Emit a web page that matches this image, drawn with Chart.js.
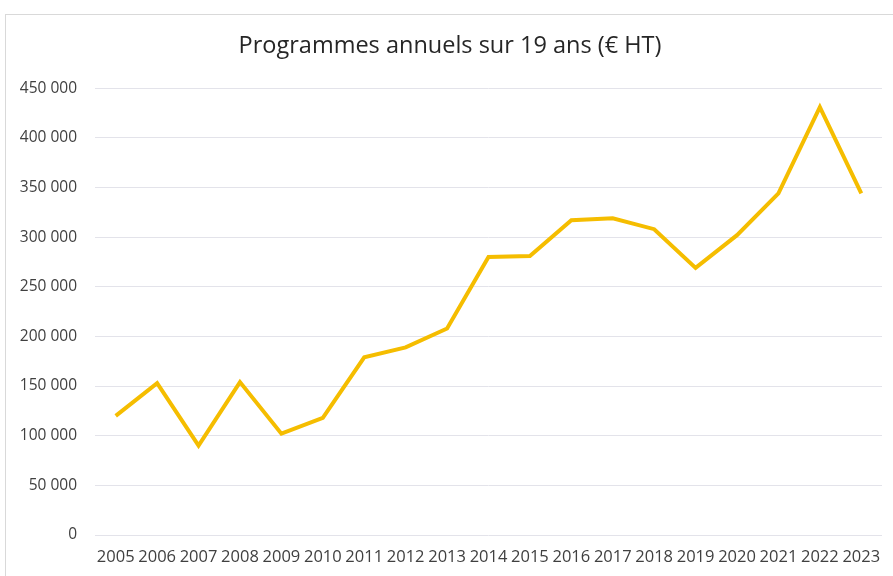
<!DOCTYPE html>
<html>
<head>
<meta charset="utf-8">
<script src="https://cdn.jsdelivr.net/npm/chart.js@4"></script>
<style>
  html, body { margin: 0; padding: 0; background: #fff; }
  #frame { position: absolute; left: 5px; top: 14px; width: 900px; height: 570px; border: 1px solid #d9d9d9; box-sizing: border-box; }
  #wrap { position: absolute; left: 0; top: 0; width: 893px; height: 576px; }
</style>
</head>
<body>
<div id="frame"></div>
<div id="wrap"><canvas id="chart"></canvas></div>
<script>
var years = ['2005', '2006', '2007', '2008', '2009', '2010', '2011', '2012', '2013', '2014',
             '2015', '2016', '2017', '2018', '2019', '2020', '2021', '2022', '2023'];
var montants = [120000, 153000, 90000, 154000, 102000, 118000, 179000, 189000, 208000, 280000,
                281000, 317000, 319000, 308000, 269000, 302000, 344000, 431000, 344000];
var titre = 'Programmes annuels sur 19 ans (€ HT)';

function formatFr(v) {
    return String(v).replace(/\B(?=(\d{3})+(?!\d))/g, ' ');
}

var ctx = document.getElementById('chart').getContext('2d');
new Chart(ctx, {
    type: 'line',
    data: {
        labels: years,
        datasets: [{
            label: titre,
            data: montants,
            borderColor: '#f5bd00',
            backgroundColor: '#f5bd00',
            borderWidth: 4,
            pointRadius: 0,
            tension: 0,
            fill: false
        }]
    },
    options: {
        responsive: true,
        maintainAspectRatio: false,
        animation: false,
        layout: { padding: { left: 18, right: 11, top: 32, bottom: 9 } },
        plugins: {
            legend: { display: false },
            tooltip: { enabled: false },
            title: {
                display: true,
                text: titre,
                color: '#262626',
                font: { family: 'Open Sans', size: 23.5, weight: 'normal' },
                padding: { top: 0, bottom: 28 }
            }
        },
        scales: {
            x: {
                offset: true,
                grid: { display: false, drawTicks: false },
                border: { display: false },
                afterFit: function (scale) { scale.height = 32; },
                ticks: {
                    color: '#404040',
                    font: { family: 'Open Sans', size: 16.5 },
                    maxRotation: 0,
                    autoSkip: false,
                    padding: 12
                }
            },
            y: {
                min: 0,
                max: 450000,
                grid: { color: '#e3e3ea', lineWidth: 1, drawTicks: false },
                border: { display: false },
                afterFit: function (scale) { scale.width = 77; },
                ticks: {
                    stepSize: 50000,
                    color: '#404040',
                    font: { family: 'Open Sans', size: 15.5 },
                    padding: 18,
                    callback: function (v) { return formatFr(v); }
                }
            }
        }
    }
});
</script>
</body>
</html>
